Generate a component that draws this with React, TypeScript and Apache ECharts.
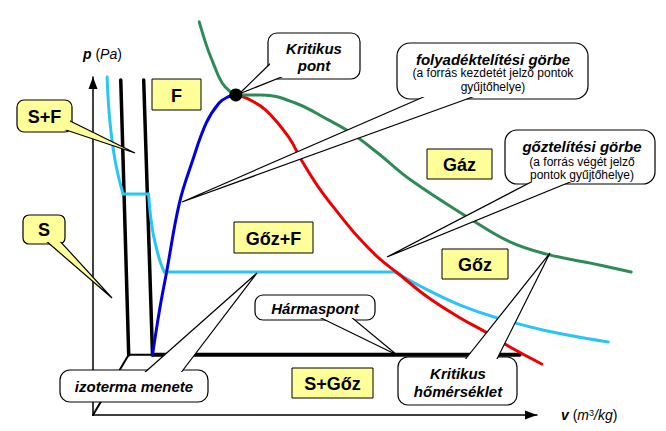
import { useEffect, useRef } from "react";
import * as echarts from "echarts";

// Schematic p–v diagram: v and p in arbitrary units (0..100 span the drawn axes)
const solidLineLeft: number[][] = [[6.3, 99.1], [8.1, 17.8]];
const solidLineRight: number[][] = [[11.5, 99.1], [13.5, 17.8]];
const baseShort: number[][] = [[8.1, 17.8], [13.5, 17.8]];
const baseDiagonal: number[][] = [[0, 0], [8.1, 17.8]];
const tripleLine: number[][] = [[13.5, 17.8], [96.8, 17.8]];

const liquidSaturation: number[][] = [
  [13.5, 17.8], [15.1, 31.1], [16.7, 42.3], [19.6, 62.7], [22.5, 74.9],
  [25.7, 86.4], [28.6, 92.3], [30.6, 94.1], [32.4, 94.7],
];
const vaporSaturation: number[][] = [
  [32.4, 94.7], [34.7, 93.8], [39.2, 90.2], [44.4, 82.2], [47.3, 75.4],
  [51.1, 67.5], [55.6, 59.8], [60.1, 52.7], [64.6, 46.7], [69.1, 42.0],
  [75.9, 34.9], [83.3, 28.7], [89.4, 24.3], [94.6, 20.1], [101.8, 15.1],
];
const criticalIsotherm: number[][] = [
  [24.1, 116.3], [25.7, 109.5], [27.0, 105.0], [29.3, 98.2], [31.5, 95.3],
  [32.4, 94.7], [38.3, 94.7], [45.9, 92.3], [53.4, 87.3], [58.6, 83.4],
  [64.6, 77.5], [72.1, 69.5], [84.9, 58.6], [94.6, 51.2], [102.9, 47.6],
  [112.6, 45.0], [122.1, 42.3],
];
const isothermSolid: number[][] = [[3.2, 100], [3.8, 87.3], [5.0, 75.4], [6.8, 65.4]];
const isothermMelting: number[][] = [[6.8, 65.4], [12.6, 65.4]];
const isothermLiquid: number[][] = [[12.6, 65.4], [13.5, 54.7], [15.1, 45.9], [16.2, 42.3]];
const isothermBoiling: number[][] = [[16.2, 42.3], [68.5, 42.3]];
const isothermVapor: number[][] = [
  [68.5, 42.3], [75.9, 37.0], [83.3, 32.5], [91.0, 29.0], [102.3, 25.1], [116.9, 21.6],
];
const criticalPoint: number[][] = [[32.4, 94.7]];

const FONT = '"Liberation Sans", Arial, sans-serif';
const YELLOW = "#FFFF99";

type Pt = [number, number];
let zc = 0;
const nz = () => ++zc;

function txt(text: string, x: number, y: number, size: number, bold = true, italic = true) {
  return {
    type: "text",
    z: 10,
    style: {
      text, x, y, align: "center", verticalAlign: "middle",
      fontSize: size, fontWeight: bold ? "bold" : "normal",
      fontStyle: italic ? "italic" : "normal", fontFamily: FONT, fill: "#000",
    },
  };
}

function callout(x: number, y: number, w: number, h: number, r: number, fill: string,
  b1: Pt, tip: Pt, b2: Pt, texts: any[]) {
  const els: any[] = [
    { type: "rect", z: 10, z2: nz(), shape: { x, y, width: w, height: h, r }, style: { fill, stroke: "#000", lineWidth: 1.2 } },
    { type: "polygon", z: 10, z2: nz(), shape: { points: [b1, tip, b2] }, style: { fill, stroke: "#000", lineWidth: 1.2 } },
    { type: "rect", z: 10, z2: nz(), shape: { x: x + 2, y: y + 2, width: w - 4, height: h - 4, r: Math.max(r - 2, 0) }, style: { fill } },
  ];
  texts.forEach((t) => els.push({ ...t, z2: nz() }));
  return els;
}

function box(x: number, y: number, w: number, h: number, label: string) {
  const r = { type: "rect", z: 10, z2: nz(), shape: { x, y, width: w, height: h }, style: { fill: YELLOW, stroke: "#000", lineWidth: 1 } };
  const t = { ...txt(label, x + w / 2, y + h / 2 + 1, 18, true, false), z2: nz() };
  return [r, t];
}

function line(name: string, data: number[][], color: string, width: number, smooth: number | boolean = false) {
  return {
    type: "line", name, data, smooth, symbol: "none", clip: false, silent: true,
    xAxisIndex: 1, yAxisIndex: 1,
    lineStyle: { color, width, cap: "round", join: "round" }, z: 3,
  };
}

export default function App() {
  const ref = useRef<HTMLDivElement>(null);
  useEffect(() => {
    if (!ref.current) return;
    const chart = echarts.init(ref.current, undefined, { renderer: "svg" });
    zc = 0;
    const hidden = {
      axisLine: { show: false }, axisTick: { show: false }, axisLabel: { show: false }, splitLine: { show: false },
    };
    const visibleAxis = {
      type: "value", min: 0, max: 100, gridIndex: 0,
      axisLine: {
        show: true, onZero: false, symbol: ["none", "triangle"], symbolSize: [9, 12],
        symbolOffset: [0, -6], lineStyle: { color: "#000", width: 1.5 },
      },
      axisTick: { show: false }, axisLabel: { show: false }, splitLine: { show: false },
    };
    const rich = {
      b: { fontWeight: "bold", fontStyle: "italic", fontSize: 14, fontFamily: FONT, fill: "#000" },
      n: { fontSize: 14, fontFamily: FONT },
      i: { fontStyle: "italic", fontSize: 14, fontFamily: FONT },
      s: { fontSize: 9, fontFamily: FONT, verticalAlign: "top" },
    };
    const elements: any[] = [
      ...callout(17, 100, 55, 32, 7, YELLOW, [66, 119], [135, 153], [60, 128], [txt("S+F", 44.5, 117, 18, true, false)]),
      ...callout(23, 215, 42, 29, 6, YELLOW, [45, 240], [112, 298], [59, 240], [txt("S", 44, 230, 18, true, false)]),
      ...callout(268, 33, 92, 46, 9, "#fff", [274, 60], [239, 94], [284, 76], [txt("Kritikus", 314, 48, 15), txt("pont", 314, 65, 15)]),
      ...callout(397, 43, 191, 56, 13, "#fff", [428, 95], [182, 202], [478, 95], [
        txt("folyadéktelítési görbe", 493, 59, 15),
        txt("(a forrás kezdetét jelző pontok", 493, 73, 12, false, false),
        txt("gyűjtőhelye)", 493, 87, 12, false, false),
      ]),
      ...callout(505, 130, 150, 54, 12, "#fff", [535, 180], [387, 257], [575, 180], [
        txt("gőztelítési görbe", 582, 146, 15),
        txt("(a forrás végét jelző", 582, 162, 12, false, false),
        txt("pontok gyűjtőhelye)", 582, 175, 12, false, false),
      ]),
      ...callout(255, 295, 120, 25, 8, "#fff", [317, 316], [397, 355], [350, 316], [txt("Hármaspont", 315, 308, 15)]),
      ...callout(60, 370, 148, 32, 10, "#fff", [143, 374], [257, 273], [180, 374], [txt("izoterma menete", 134, 386, 15)]),
      ...callout(398, 357, 119, 48, 10, "#fff", [464, 361], [550, 253], [496, 361], [
        txt("Kritikus", 458, 373, 15), txt("hőmérséklet", 458, 391, 15),
      ]),
      ...box(152, 79, 49, 31, "F"),
      ...box(234, 222, 79, 31, "Gőz+F"),
      ...box(427, 149, 65, 30, "Gáz"),
      ...box(442, 249, 66, 30, "Gőz"),
      ...box(292, 368, 81, 30, "S+Gőz"),
      {
        type: "text", z: 10, z2: nz(),
        style: { x: 83, y: 54, verticalAlign: "middle", text: "{b|p} {n|(}{i|Pa}{n|)}", rich, fontSize: 14, fontFamily: FONT },
      },
      {
        type: "text", z: 10, z2: nz(),
        style: { x: 561, y: 415, verticalAlign: "middle", text: "{b|v} {n|(}{i|m}{s|3}{i|/kg}{n|)}", rich, fontSize: 14, fontFamily: FONT },
      },
    ];
    chart.setOption({
      animation: false,
      backgroundColor: "#fff",
      grid: [
        { left: 93, top: 77, width: 444, height: 338 },
        { left: 93, top: 77, width: 577.2, height: 338 },
      ],
      xAxis: [
        visibleAxis,
        { type: "value", min: 0, max: 130, gridIndex: 1, ...hidden },
      ],
      yAxis: [
        visibleAxis,
        { type: "value", min: 0, max: 100, gridIndex: 1, ...hidden },
      ],
      series: [
        line("solidLeft", solidLineLeft, "#000", 3.5),
        line("solidRight", solidLineRight, "#000", 3.5),
        line("baseShort", baseShort, "#000", 2),
        line("baseDiagonal", baseDiagonal, "#000", 2),
        line("triple", tripleLine, "#000", 4),
        line("isoSolid", isothermSolid, "#29C5F6", 3, 0.4),
        line("isoMelt", isothermMelting, "#29C5F6", 3),
        line("isoLiquid", isothermLiquid, "#29C5F6", 3, 0.4),
        line("isoBoil", isothermBoiling, "#29C5F6", 3),
        line("isoVapor", isothermVapor, "#29C5F6", 3, 0.4),
        line("liquid", liquidSaturation, "#0000DD", 3, 0.4),
        line("vapor", vaporSaturation, "#EE0000", 3, 0.4),
        line("critIso", criticalIsotherm, "#2E8B57", 3, 0.4),
        {
          type: "scatter", name: "critical", data: criticalPoint, symbolSize: 13, silent: true,
          xAxisIndex: 1, yAxisIndex: 1,
          itemStyle: { color: "#000", opacity: 1 }, z: 5,
        },
      ],
      graphic: { elements },
    });
    return () => chart.dispose();
  }, []);
  return (
    <div
      ref={ref}
      style={{ position: "fixed", left: 0, top: 0, width: 666, height: 431, background: "#fff" }}
    />
  );
}
